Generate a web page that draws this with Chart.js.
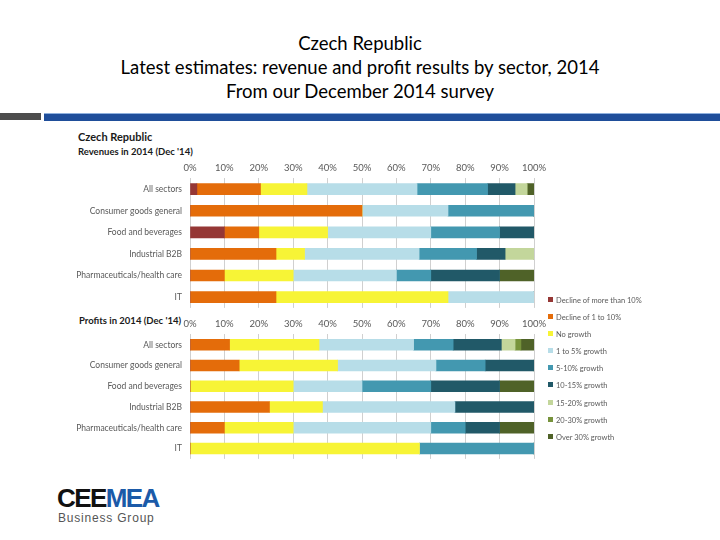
<!DOCTYPE html>
<html lang="en">
<head>
    <meta charset="UTF-8">
    <title>Czech Republic - revenue and profit results by sector, 2014</title>
    <script src="https://cdn.jsdelivr.net/npm/chart.js"></script>
    <style>
        body {
            margin: 0;
            width: 720px;
            height: 540px;
            position: relative;
            background: #fff;
            font-family: Lato, "Open Sans", sans-serif;
            overflow: hidden;
        }

        .title {
            position: absolute;
            left: 0;
            top: 31px;
            width: 720px;
            text-align: center;
            font-size: 18.5px;
            line-height: 24px;
            color: #000;
        }

        .bar-grey {
            position: absolute;
            left: 0; top: 113px;
            width: 41px; height: 7px;
            background: #4d4d4d;
        }

        .bar-blue {
            position: absolute;
            left: 44px; top: 113px;
            width: 676px; height: 7px;
            background: #1f4e9a;
            border-top: 1px solid #8fb0dd;
        }

        .label {
            position: absolute;
            font-weight: bold;
            color: #1a1a1a;
            white-space: nowrap;
        }

        canvas {
            position: absolute;
            left: 0;
        }

        #legend {
            position: absolute;
            left: 548px;
            top: 295px;
            font-size: 7.5px;
            color: #595959;
        }

        .legend-item {
            height: 17.1px;
            line-height: 12px;
            white-space: nowrap;
        }

        .legend-item span {
            display: inline-block;
            width: 5px;
            height: 5px;
            margin-right: 3px;
            vertical-align: 1px;
        }

        .logo {
            position: absolute;
            left: 57px;
            top: 485px;
            font-family: "Liberation Sans", Arial, sans-serif;
        }

        .logo .big {
            font-size: 26px;
            font-weight: bold;
            letter-spacing: -1.6px;
            line-height: 27px;
        }

        .logo .small {
            font-size: 12px;
            color: #555;
            letter-spacing: 0.8px;
            line-height: 12px;
            margin-left: 1px;
        }
    </style>
</head>
<body>
    <div class="title">Czech Republic<br>Latest estimates: revenue and profit results by sector, 2014<br>From our December 2014 survey</div>
    <div class="bar-grey"></div>
    <div class="bar-blue"></div>

    <div class="label" style="left:78px; top:130px; font-size:11px;">Czech Republic</div>
    <div class="label" style="left:78px; top:146px; font-size:9.5px;">Revenues in 2014 (Dec '14)</div>
    <div class="label" style="left:79px; top:315px; font-size:9.5px;">Profits in 2014 (Dec '14)</div>

    <canvas id="revChart" width="560" height="164" style="top:157px;"></canvas>
    <canvas id="profChart" width="560" height="159" style="top:313px;"></canvas>

    <div id="legend"></div>

    <div class="logo">
        <div class="big"><span style="color:#111">CEE</span><span style="color:#1b5aa8">MEA</span></div>
        <div class="small">Business Group</div>
    </div>

    <script>
        const sectors = ['All sectors', 'Consumer goods general', 'Food and beverages',
                         'Industrial B2B', 'Pharmaceuticals/health care', 'IT'];

        const seriesNames = ['Decline of more than 10%', 'Decline of 1 to 10%', 'No growth',
                             '1 to 5% growth', '5-10% growth', '10-15% growth',
                             '15-20% growth', '20-30% growth', 'Over 30% growth'];

        const seriesColors = ['#953735', '#e46c0a', '#f7f436', '#b7dde8', '#4398b0',
                              '#215968', '#c3d69b', '#77933c', '#4f6228'];

        const tickLabels = ['0%', '10%', '20%', '30%', '40%', '50%', '60%', '70%', '80%', '90%', '100%'];

        // revenues: one array per growth band, values per sector (%)
        const revDeclineMore = [2, 0, 10, 0, 0, 0];
        const revDecline     = [18.5, 50, 10, 25, 10, 25];
        const revNoGrowth    = [13.5, 0, 20, 8.3, 20, 50];
        const rev1to5        = [32, 25, 30, 33.3, 30, 25];
        const rev5to10       = [20.5, 25, 20, 16.7, 10, 0];
        const rev10to15      = [8, 0, 10, 8.3, 20, 0];
        const rev15to20      = [3.5, 0, 0, 8.4, 0, 0];
        const rev20to30      = [0, 0, 0, 0, 0, 0];
        const revOver30      = [2, 0, 0, 0, 10, 0];

        // profits
        const profDeclineMore = [0, 0, 0, 0, 0, 0];
        const profDecline     = [11.5, 14.3, 0, 23.1, 10, 0];
        const profNoGrowth    = [26, 28.6, 30, 15.4, 20, 66.7];
        const prof1to5        = [27.5, 28.6, 20, 38.5, 40, 0];
        const prof5to10       = [11.5, 14.3, 20, 0, 10, 33.3];
        const prof10to15      = [14, 14.2, 20, 23, 10, 0];
        const prof15to20      = [4, 0, 0, 0, 0, 0];
        const prof20to30      = [1.7, 0, 0, 0, 0, 0];
        const profOver30      = [3.8, 0, 10, 0, 10, 0];

        const revSeries = [revDeclineMore, revDecline, revNoGrowth, rev1to5, rev5to10,
                           rev10to15, rev15to20, rev20to30, revOver30];
        const profSeries = [profDeclineMore, profDecline, profNoGrowth, prof1to5, prof5to10,
                            prof10to15, prof15to20, prof20to30, profOver30];

        const textColor = '#595959';

        function makeChart(id, series) {
            const ctx = document.getElementById(id).getContext('2d');
            return new Chart(ctx, {
                type: 'bar',
                data: {
                    labels: sectors,
                    datasets: series.map((vals, i) => ({
                        label: seriesNames[i],
                        data: vals,
                        backgroundColor: seriesColors[i],
                        borderWidth: 0,
                        barThickness: 11
                    }))
                },
                options: {
                    indexAxis: 'y',
                    responsive: false,
                    animation: false,
                    layout: { padding: { right: 26, top: 0, bottom: 0, left: 0 } },
                    plugins: {
                        legend: { display: false },
                        tooltip: { enabled: false }
                    },
                    scales: {
                        x: {
                            stacked: true,
                            position: 'top',
                            min: 0,
                            max: 100,
                            ticks: {
                                stepSize: 10,
                                padding: 5,
                                color: textColor,
                                font: { family: 'Lato', size: 9.5 },
                                callback: (v, i) => tickLabels[i]
                            },
                            grid: { color: '#d0d0d0', drawTicks: false },
                            border: { display: false }
                        },
                        y: {
                            stacked: true,
                            ticks: {
                                padding: 8,
                                color: textColor,
                                font: { family: 'Lato', size: 8.5 }
                            },
                            grid: { display: false, drawTicks: false },
                            border: { display: false },
                            afterFit: (scale) => { scale.width = 190; }
                        }
                    }
                }
            });
        }

        makeChart('revChart', revSeries);
        makeChart('profChart', profSeries);

        // legend shared by both charts
        const legend = document.getElementById('legend');
        seriesNames.forEach((name, i) => {
            legend.innerHTML += `<div class="legend-item"><span style="background:${seriesColors[i]}"></span>${name}</div>`;
        });
    </script>
</body>
</html>
